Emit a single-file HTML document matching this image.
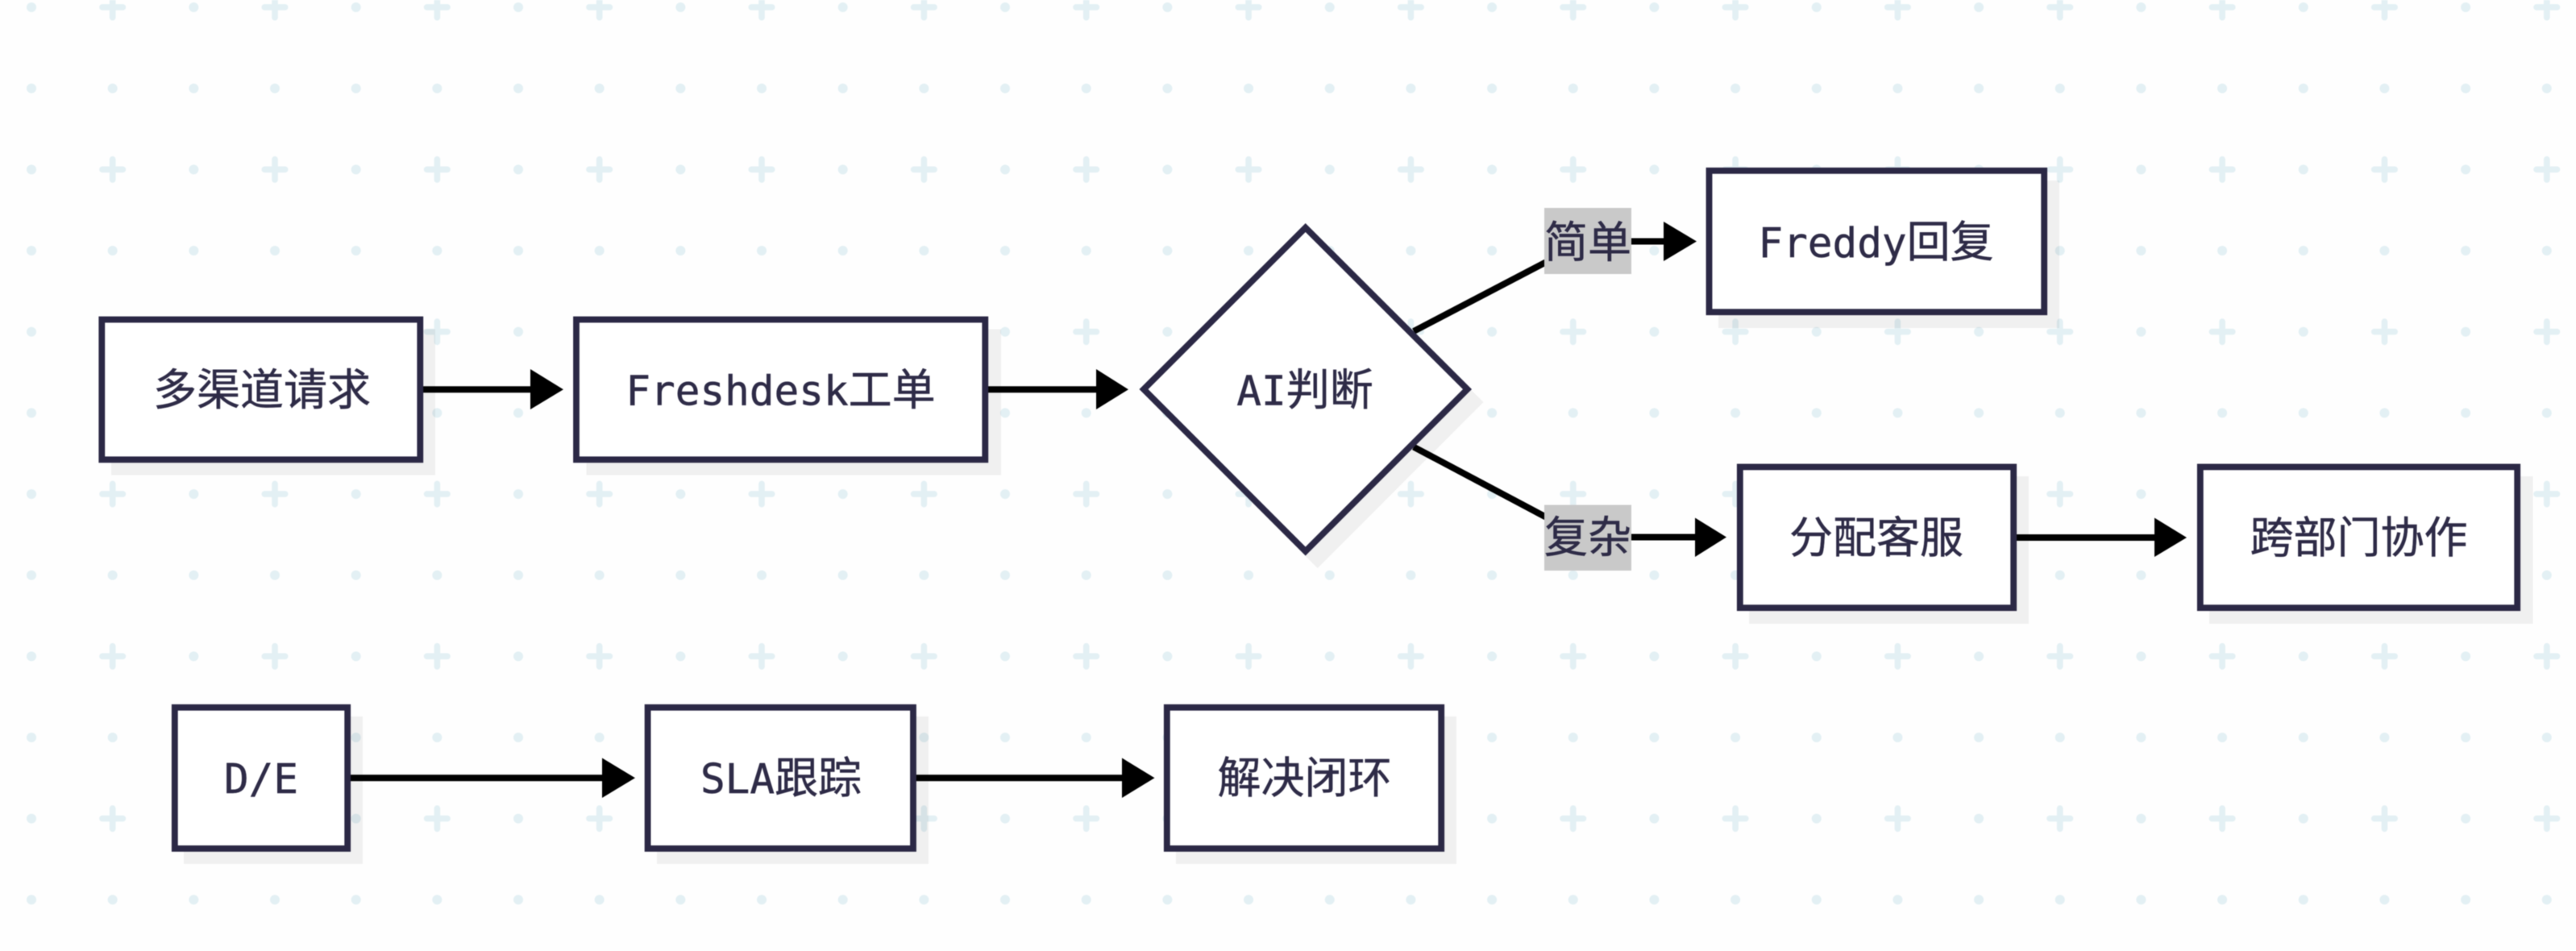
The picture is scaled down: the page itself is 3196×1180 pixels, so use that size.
<!DOCTYPE html>
<html lang="zh">
<head>
<meta charset="utf-8">
<title>Flow diagram</title>
<style>
html,body{margin:0;padding:0;background:#fefefe;width:3196px;height:1180px;overflow:hidden}
svg{display:block;filter:blur(.6px)}
text{font-family:"DejaVu Sans Mono","Noto Sans CJK SC",monospace;font-size:54px;fill:#2e2b47;stroke:#2e2b47;stroke-width:.5;text-anchor:middle}
.m{font-size:51px}
.n{fill:#fff;stroke:#2b2845;stroke-width:7.8}
.s{fill:rgba(0,0,0,.056)}
.l{stroke:#000;stroke-width:8;fill:none}
.h{fill:#000}
.lb{fill:#c9c9c9}
</style>
</head>
<body>
<svg xmlns="http://www.w3.org/2000/svg" width="3196" height="1180" viewBox="0 0 3196 1180">
<defs>
<pattern id="g" width="201.34" height="201.34" patternUnits="userSpaceOnUse" patternTransform="translate(-11.33,-41.33)">
<g fill="#e3f0f4">
<circle cx="50.33" cy="50.33" r="6"/>
<circle cx="50.33" cy="151" r="6"/>
<circle cx="151" cy="151" r="6"/>
<rect x="134.5" y="46.5" width="33" height="7.6" rx="3.8"/>
<rect x="147.2" y="33.8" width="7.6" height="33" rx="3.8"/>
</g>
</pattern>
</defs>
<rect width="3196" height="1180" fill="#fefefe"/>
<rect width="3196" height="1180" fill="url(#g)"/>

<!-- shadows -->
<rect class="s" x="138" y="408.5" width="402" height="181"/>
<rect class="s" x="727.5" y="408.5" width="514.5" height="181"/>
<polygon class="s" points="1634.7,293.5 1840.5,499 1634.7,705 1429,499"/>
<rect class="s" x="2132" y="224" width="423" height="183"/>
<rect class="s" x="2170" y="591" width="347" height="183"/>
<rect class="s" x="2741" y="591" width="401.5" height="183"/>
<rect class="s" x="228" y="889" width="222" height="183"/>
<rect class="s" x="815" y="889" width="337" height="183"/>
<rect class="s" x="1459" y="889" width="348" height="183"/>

<!-- connectors -->
<path class="l" d="M525 483.3H660"/>
<polygon class="h" points="658,458 699,483.3 658,508"/>
<path class="l" d="M1226 483.3H1362"/>
<polygon class="h" points="1360,458 1400,483.3 1360,508"/>
<path class="l" d="M1754 411L1930 319"/>
<path class="l" d="M2020 299.5H2066"/>
<polygon class="h" points="2064,275 2105,299.5 2064,324"/>
<path class="l" d="M1754 554.6L1930 648"/>
<path class="l" d="M2020 666.5H2105"/>
<polygon class="h" points="2103,642.5 2142,666.5 2103,691"/>
<path class="l" d="M2502 667H2675"/>
<polygon class="h" points="2673,642.5 2713,667 2673,691"/>
<path class="l" d="M435 965.2H749"/>
<polygon class="h" points="747,940.5 788,965.2 747,990"/>
<path class="l" d="M1136 965.2H1394"/>
<polygon class="h" points="1392,940.5 1432.5,965.2 1392,990"/>

<!-- nodes -->
<rect class="n" x="126.3" y="396.5" width="395" height="173.8"/>
<rect class="n" x="715" y="396.5" width="507.3" height="173.8"/>
<polygon class="n" points="1619.7,282.5 1820.5,483 1619.7,684 1419,483"/>
<rect class="n" x="2120.5" y="211.8" width="415.7" height="175.4"/>
<rect class="n" x="2158.8" y="579.4" width="339.4" height="174.8"/>
<rect class="n" x="2729.8" y="579.4" width="393.4" height="174.8"/>
<rect class="n" x="216.8" y="877.8" width="214.4" height="175.1"/>
<rect class="n" x="803.6" y="877.8" width="329.4" height="175.1"/>
<rect class="n" x="1447.8" y="877.8" width="340.4" height="175.1"/>

<!-- edge labels -->
<rect class="lb" x="1916" y="258" width="108" height="82"/>
<rect class="lb" x="1916" y="626.5" width="108" height="81.5"/>

<!-- text -->
<text x="325" y="502.5">多渠道请求</text>
<text x="968.5" y="502.5"><tspan class="m">Freshdesk</tspan>工单</text>
<text x="1619" y="502.5"><tspan class="m">AI</tspan>判断</text>
<text x="1970" y="319.5">简单</text>
<text x="1970" y="685.5">复杂</text>
<text x="2327.5" y="319"><tspan class="m">Freddy</tspan>回复</text>
<text x="2328" y="686">分配客服</text>
<text x="2926.5" y="686">跨部门协作</text>
<text x="324" y="984"><tspan class="m">D/E</tspan></text>
<text x="969" y="984"><tspan class="m">SLA</tspan>跟踪</text>
<text x="1618.5" y="984">解决闭环</text>
</svg>
</body>
</html>
